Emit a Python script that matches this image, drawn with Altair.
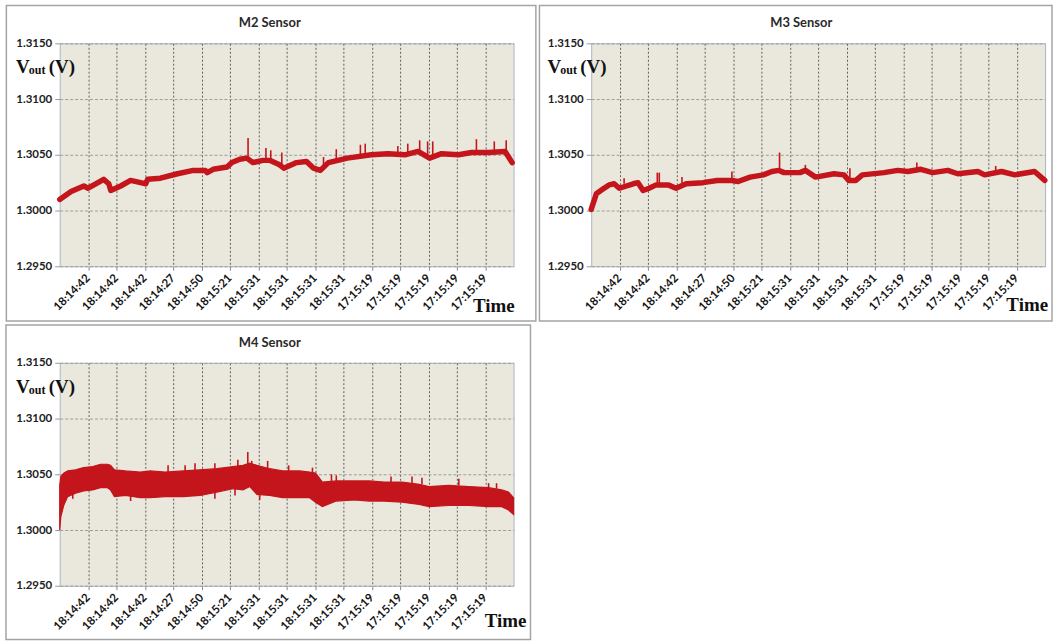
import json
import altair as alt
import pandas as pd

# ---- shared axis content -------------------------------------------------
TICK_LABELS = ["18:14:42", "18:14:42", "18:14:42", "18:14:27", "18:14:50",
               "18:15:21", "18:15:31", "18:15:31", "18:15:31", "18:15:31",
               "17:15:19", "17:15:19", "17:15:19", "17:15:19", "17:15:19"]
Y_TICKS = [1.2950, 1.3000, 1.3050, 1.3100, 1.3150]

# ---- M2 sensor: output voltage trace and short glitches ------------------
M2_IDX = [0.0, 0.4, 0.85, 1.0, 1.27, 1.55, 1.73, 1.8, 2.15, 2.5, 2.85, 3.03, 3.1,
          3.55, 4.15, 4.71, 5.13, 5.2, 5.41, 5.9, 6.07, 6.35, 6.6, 6.81, 7.16,
          7.4, 7.75, 7.9, 8.35, 8.7, 8.95, 9.19, 9.47, 10.14, 10.98, 11.57,
          12.17, 12.63, 13.04, 13.46, 14.06, 14.52, 15.11, 15.7, 15.95]
M2_V = [1.3010, 1.3017, 1.3022, 1.3020, 1.3024, 1.3028, 1.3024, 1.3018, 1.3022,
        1.3027, 1.3025, 1.3024, 1.3028, 1.3029, 1.3033, 1.3036, 1.3036, 1.3034,
        1.3037, 1.3039, 1.3043, 1.3046, 1.3047, 1.3043, 1.3045, 1.3045, 1.3041,
        1.3038, 1.3043, 1.3044, 1.3038, 1.3036, 1.3043, 1.3047, 1.3050, 1.3051,
        1.3050, 1.3053, 1.3047, 1.3051, 1.3050, 1.3052, 1.3052, 1.3053, 1.3043]
M2_SPK_IDX = [6.64, 7.27, 7.44, 7.83, 9.3, 9.75, 10.6, 10.77, 11.92, 12.27,
              12.69, 12.97, 13.15, 14.69, 15.32, 15.74]
M2_SPK_BASE = [1.3047, 1.3045, 1.3045, 1.3041, 1.3040, 1.3044, 1.3049, 1.3049,
               1.3050, 1.3050, 1.3052, 1.3049, 1.3048, 1.3052, 1.3052, 1.3053]
M2_SPK_TIP = [1.3065, 1.3056, 1.3054, 1.3052, 1.3048, 1.3055, 1.3059, 1.3060,
              1.3058, 1.3060, 1.3063, 1.3062, 1.3062, 1.3064, 1.3062, 1.3063]

# ---- M3 sensor -----------------------------------------------------------
M3_IDX = [0.0, 0.18, 0.4, 0.63, 0.81, 0.99, 1.48, 1.65, 1.83, 2.04, 2.29, 2.71,
          2.99, 3.35, 3.94, 4.44, 4.96, 5.18, 5.6, 6.07, 6.37, 6.62, 6.8, 7.36,
          7.55, 7.91, 8.56, 8.91, 9.08, 9.33, 9.56, 10.32, 10.81, 11.16, 11.62,
          12.04, 12.57, 12.92, 13.63, 13.87, 14.47, 14.93, 15.63, 15.99]
M3_V = [1.3001, 1.3015, 1.3019, 1.3023, 1.3024, 1.3020, 1.3024, 1.3025, 1.3018,
        1.3020, 1.3023, 1.3023, 1.3020, 1.3024, 1.3025, 1.3027, 1.3027, 1.3026,
        1.3030, 1.3032, 1.3035, 1.3036, 1.3034, 1.3034, 1.3036, 1.3030, 1.3033,
        1.3032, 1.3027, 1.3027, 1.3032, 1.3034, 1.3036, 1.3035, 1.3037, 1.3034,
        1.3036, 1.3033, 1.3035, 1.3032, 1.3035, 1.3032, 1.3035, 1.3027]
M3_SPK_IDX = [1.16, 2.33, 2.4, 3.2, 4.96, 6.64, 7.55, 9.12, 11.48, 14.26]
M3_SPK_BASE = [1.3024, 1.3023, 1.3023, 1.3022, 1.3027, 1.3036, 1.3036, 1.3027,
               1.3036, 1.3034]
M3_SPK_TIP = [1.3029, 1.3034, 1.3034, 1.3030, 1.3035, 1.3052, 1.3041, 1.3038,
              1.3043, 1.3040]

# ---- M4 sensor: noisy signal drawn as an upper/lower envelope ------------
M4_IDX = [0.0, 0.04, 0.14, 0.28, 0.56, 0.84, 1.16, 1.44, 1.68, 1.79, 1.93, 2.32,
          2.84, 3.19, 3.72, 4.35, 4.95, 5.54, 6.11, 6.46, 6.7, 6.95, 7.4, 7.86,
          8.46, 8.81, 9.02, 9.26, 9.75, 10.39, 10.91, 11.44, 12.07, 12.67, 13.02,
          13.72, 14.42, 15.12, 15.58, 15.82, 16.0]
M4_HI = [1.3040, 1.3048, 1.3051, 1.3053, 1.3054, 1.3056, 1.3057, 1.3059, 1.3059,
         1.3058, 1.3054, 1.3053, 1.3052, 1.3053, 1.3052, 1.3053, 1.3054, 1.3055,
         1.3057, 1.3058, 1.3060, 1.3058, 1.3055, 1.3053, 1.3053, 1.3052, 1.3051,
         1.3043, 1.3044, 1.3044, 1.3044, 1.3043, 1.3043, 1.3041, 1.3039, 1.3040,
         1.3039, 1.3038, 1.3036, 1.3034, 1.3029]
M4_LO = [1.3000, 1.3012, 1.3022, 1.3030, 1.3033, 1.3035, 1.3036, 1.3038, 1.3038,
         1.3036, 1.3030, 1.3031, 1.3029, 1.3029, 1.3030, 1.3030, 1.3031, 1.3034,
         1.3037, 1.3036, 1.3039, 1.3032, 1.3031, 1.3029, 1.3029, 1.3029, 1.3025,
         1.3021, 1.3026, 1.3027, 1.3026, 1.3026, 1.3025, 1.3023, 1.3021, 1.3022,
         1.3022, 1.3021, 1.3021, 1.3018, 1.3014]
M4_SPK_IDX = [0.46, 2.5, 3.82, 4.42, 4.77, 5.47, 5.47, 6.18, 6.28, 6.63, 6.77,
              7.05, 7.33, 8.07, 8.91, 9.58, 9.75, 11.68, 12.42, 12.77, 14.07,
              15.12, 15.4]
M4_SPK_BASE = [1.3033, 1.3031, 1.3052, 1.3053, 1.3053, 1.3055, 1.3034, 1.3037,
               1.3057, 1.3058, 1.3058, 1.3032, 1.3055, 1.3053, 1.3052, 1.3044,
               1.3044, 1.3043, 1.3042, 1.3041, 1.3040, 1.3038, 1.3037]
M4_SPK_TIP = [1.3028, 1.3026, 1.3058, 1.3058, 1.3060, 1.3060, 1.3028, 1.3031,
              1.3063, 1.3070, 1.3062, 1.3027, 1.3062, 1.3058, 1.3056, 1.3050,
              1.3049, 1.3048, 1.3048, 1.3047, 1.3046, 1.3042, 1.3042]

# ---- styling ---------------------------------------------------------------
RED = "#C4151C"
PLOT_W, PLOT_H = 456, 224
SANS = "Lato"
SERIF = "Liberation Serif"
ONE = pd.DataFrame({"k": [0]})

label_expr = f"{json.dumps(TICK_LABELS)}[datum.value - 1]"

x_axis = alt.Axis(values=list(range(1, 16)), labelExpr=label_expr, labelAngle=315,
                  labelAlign="right", labelBaseline="middle", labelFont=SANS,
                  labelFontWeight="bold", labelFontSize=11.5, labelColor="#151515",
                  labelPadding=6, labelOverlap=False, labelBound=False,
                  tickSize=4, tickColor="#8a8a8a", domain=False, grid=True,
                  gridColor="#5e5e5e", gridDash=[2, 2], gridWidth=1, title=None)
y_axis = alt.Axis(values=Y_TICKS, format=".4f", labelFont=SANS, labelFontWeight="bold",
                  labelFontSize=11.5, labelColor="#222", labelPadding=3, tickSize=5,
                  tickColor="#999", domain=False, grid=True, gridColor="#9c9c9c",
                  gridDash=[3, 2], gridWidth=1, title=None)
x_scale = alt.Scale(domain=[0, 16], nice=False, zero=False)
y_scale = alt.Scale(domain=[1.295, 1.315], nice=False, zero=False)


def X():
    return alt.X("i:Q", scale=x_scale, axis=x_axis)


def Y(field):
    return alt.Y(f"{field}:Q", scale=y_scale, axis=y_axis)


def decorations(title, box, time_xy):
    """Panel frame, title, V_out label and 'Time' label (pixel offsets from the plot origin)."""
    frame = alt.Chart(ONE).mark_rect(fillOpacity=0, stroke="#A4A4A4", strokeWidth=1.5).encode(
        x=alt.value(box[0]), x2=alt.value(box[1]), y=alt.value(box[2]), y2=alt.value(box[3]))
    head = alt.Chart(ONE).mark_text(font=SANS, fontWeight="bold", fontSize=13, color="#2a2a2a",
                                    align="center", baseline="middle").encode(
        x=alt.value(211), y=alt.value(-20), text=alt.value(title))
    v = alt.Chart(ONE).mark_text(font=SERIF, fontWeight="bold", fontSize=19, color="#111",
                                 align="left", baseline="alphabetic").encode(
        x=alt.value(-44), y=alt.value(30), text=alt.value("V"))
    sub = alt.Chart(ONE).mark_text(font=SERIF, fontWeight="bold", fontSize=12, color="#111",
                                   align="left", baseline="alphabetic").encode(
        x=alt.value(-31), y=alt.value(31), text=alt.value("out"))
    unit = alt.Chart(ONE).mark_text(font=SERIF, fontWeight="bold", fontSize=19, color="#111",
                                    align="left", baseline="alphabetic").encode(
        x=alt.value(-11), y=alt.value(30), text=alt.value("(V)"))
    tlabel = alt.Chart(ONE).mark_text(font=SERIF, fontWeight="bold", fontSize=19, color="#111",
                                      align="right", baseline="alphabetic").encode(
        x=alt.value(time_xy[0]), y=alt.value(time_xy[1]), text=alt.value("Time"))
    return [frame, head, v, sub, unit, tlabel]


def line_panel(title, idx, vals, s_idx, s_base, s_tip, box, time_xy):
    trace = alt.Chart(pd.DataFrame({"i": idx, "v": vals})).mark_line(
        color=RED, strokeWidth=5.5, strokeJoin="round", strokeCap="round").encode(x=X(), y=Y("v"))
    spikes = alt.Chart(pd.DataFrame({"i": s_idx, "b": s_base, "t": s_tip})).mark_rule(
        color=RED, strokeWidth=1.6).encode(x=X(), y=Y("b"), y2="t:Q")
    return alt.layer(trace, spikes, *decorations(title, box, time_xy)).properties(
        width=PLOT_W, height=PLOT_H)


def band_panel(title, idx, hi, lo, s_idx, s_base, s_tip, box, time_xy):
    band = alt.Chart(pd.DataFrame({"i": idx, "hi": hi, "lo": lo})).mark_area(
        color=RED, stroke=RED, strokeWidth=1.2).encode(x=X(), y=Y("hi"), y2="lo:Q")
    spikes = alt.Chart(pd.DataFrame({"i": s_idx, "b": s_base, "t": s_tip})).mark_rule(
        color=RED, strokeWidth=1.6).encode(x=X(), y=Y("b"), y2="t:Q")
    return alt.layer(band, spikes, *decorations(title, box, time_xy)).properties(
        width=PLOT_W, height=PLOT_H)


m2 = line_panel("M2 Sensor", M2_IDX, M2_V, M2_SPK_IDX, M2_SPK_BASE, M2_SPK_TIP,
                box=(-53.6, 478.4, -38, 279), time_xy=(457, 270))
m3 = line_panel("M3 Sensor", M3_IDX, M3_V, M3_SPK_IDX, M3_SPK_BASE, M3_SPK_TIP,
                box=(-52, 463, -38, 279), time_xy=(459, 269))
m4 = band_panel("M4 Sensor", M4_IDX, M4_HI, M4_LO, M4_SPK_IDX, M4_SPK_BASE, M4_SPK_TIP,
                box=(-54, 473, -38, 278), time_xy=(469, 265))

chart = alt.vconcat(alt.hconcat(m2, m3, spacing=0), m4, spacing=0).properties(
    padding={"left": 4, "top": 2, "right": 2, "bottom": 2}, background="white"
).configure_view(fill="#EAE8DC", stroke="#AAB5C4", strokeWidth=1)

chart.save("out.html", embed_options={"renderer": "svg", "actions": False})
